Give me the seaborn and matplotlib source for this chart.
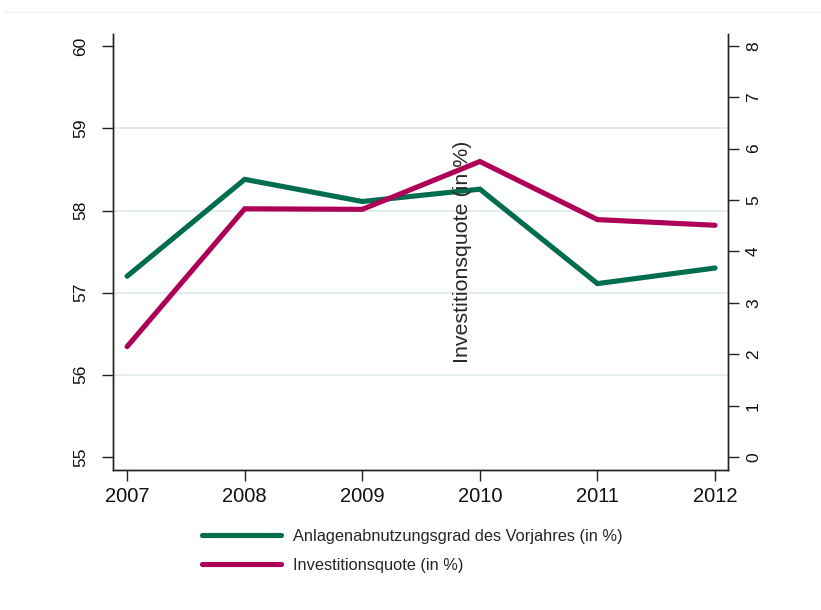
import matplotlib
matplotlib.use("Agg")
import matplotlib.pyplot as plt
from matplotlib.lines import Line2D
import seaborn as sns
import pandas as pd

# Data
years = [2007, 2008, 2009, 2010, 2011, 2012]
abnutzungsgrad = [57.20, 58.38, 58.11, 58.26, 57.11, 57.30]   # left axis
investitionsquote = [2.15, 4.83, 4.82, 5.75, 4.62, 4.51]      # right axis
left_ticks = [55, 56, 57, 58, 59, 60]
left_grid = [56, 57, 58, 59]
right_ticks = [0, 1, 2, 3, 4, 5, 6, 7, 8]
label_left = "Anlagenabnutzungsgrad des Vorjahres (in %)"
label_right = "Investitionsquote (in %)"

GREEN = "#006D4F"
MAGENTA = "#AD0056"
AXIS = "#222222"
GRID = "#E3EDF0"

sns.set_style("white")
plt.rcParams["font.family"] = ["Liberation Sans", "DejaVu Sans"]

df = pd.DataFrame({"Jahr": years, "A": abnutzungsgrad, "I": investitionsquote})

fig = plt.figure(figsize=(8.21, 6.10), dpi=100)
ax = fig.add_axes([113 / 821, 1 - 470 / 610, 615 / 821, 436 / 610])
ax2 = ax.twinx()

# Light horizontal grid at the inner left-axis values
for g in left_grid:
    ax.axhline(g, color=GRID, linewidth=1.4, zorder=0.5)

sns.lineplot(data=df, x="Jahr", y="A", ax=ax, color=GREEN, linewidth=3.7,
             solid_joinstyle="miter", label=label_left, legend=False)
sns.lineplot(data=df, x="Jahr", y="I", ax=ax2, color=MAGENTA, linewidth=3.7,
             solid_joinstyle="miter", label=label_right, legend=False)

# Axis ranges
ax.set_xlim(2006.88, 2012.11)
ax.set_ylim(54.84, 60.15)
ax2.set_ylim(-0.25, 8.23)

# Ticks
ax.set_xticks(years)
ax.set_xticklabels([str(y) for y in years])
ax.set_yticks(left_ticks)
ax2.set_yticks(right_ticks)
ax.tick_params(axis="x", direction="out", length=8, width=1, color=AXIS,
               labelsize=14.5, pad=4, labelcolor="#111111", bottom=True)
ax.tick_params(axis="y", direction="out", length=8, width=1, color=AXIS,
               labelsize=12.5, pad=10, labelcolor="#111111", left=True,
               labelrotation=90)
ax2.tick_params(axis="y", direction="out", length=8, width=1, color=AXIS,
                labelsize=12.5, pad=5, labelcolor="#111111", right=True,
                labelrotation=90)
for lab in ax.get_yticklabels():
    lab.set_va("center")
for lab in ax2.get_yticklabels():
    lab.set_va("center")
ax.grid(False)
ax2.grid(False)

ax.set_xlabel("")
ax.set_ylabel("")
ax2.set_ylabel(label_right, fontsize=15.4, rotation=90, ha="center", va="center")
ax2.yaxis.set_label_coords(0.5675, 0.5)

# Spines
for a in (ax, ax2):
    a.spines["top"].set_visible(False)
    for s in ("left", "right", "bottom"):
        a.spines[s].set_color(AXIS)
        a.spines[s].set_linewidth(1)

# Legend below the plot
handles = [Line2D([], [], color=GREEN, linewidth=3.7),
           Line2D([], [], color=MAGENTA, linewidth=3.7)]
fig.legend(handles, [label_left, label_right], loc="upper left",
           bbox_to_anchor=(202 / 821, 1 - 529 / 610), frameon=False,
           fontsize=11.8, handlelength=4.8, handletextpad=0.75,
           labelspacing=0.85, borderpad=0, borderaxespad=0)

# Faint frame line near the top edge
fig.add_artist(Line2D([5 / 821, 1], [1 - 12 / 610, 1 - 12 / 610],
                      transform=fig.transFigure, color="#EEF2F0", linewidth=1))

fig.savefig("out.png", dpi=100)
